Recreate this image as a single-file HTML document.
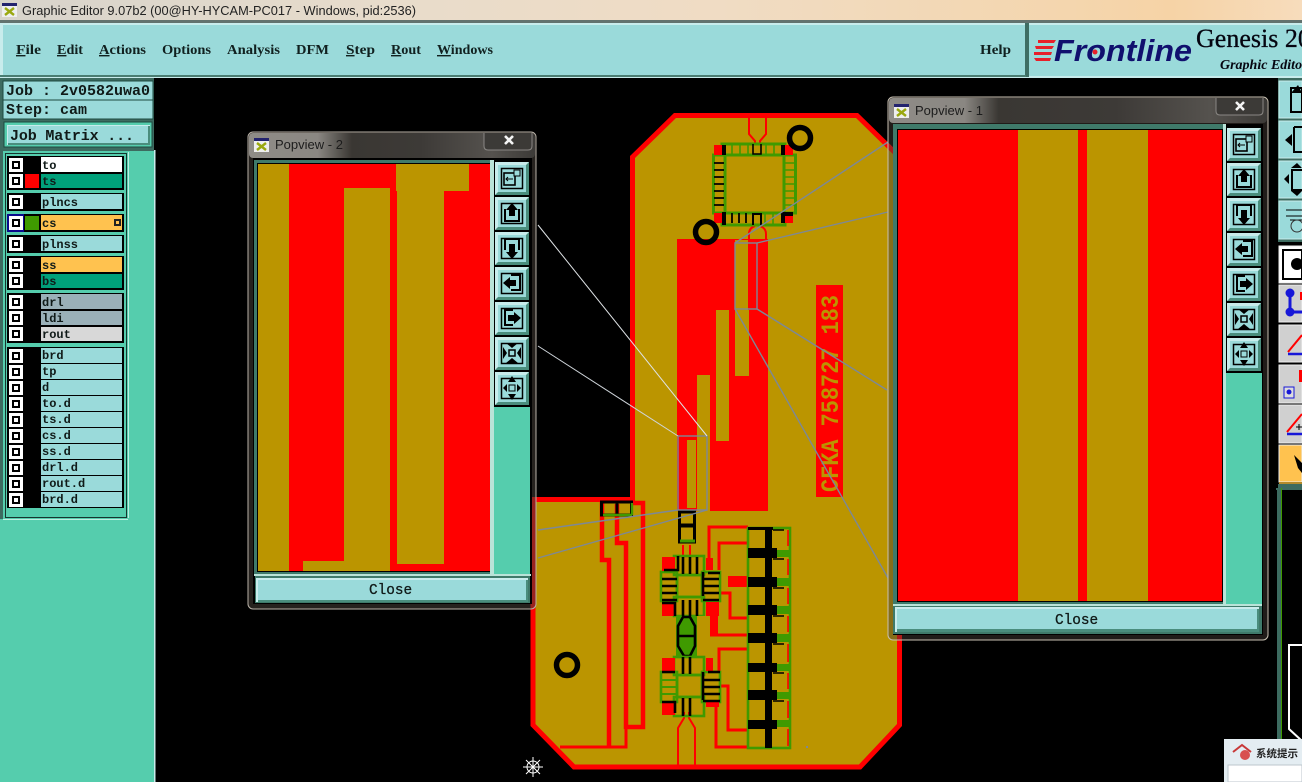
<!DOCTYPE html>
<html><head><meta charset="utf-8"><title>Graphic Editor</title>
<style>
html,body{margin:0;padding:0;background:#000;width:1302px;height:782px;overflow:hidden}
svg{display:block}
.m{font-family:"Liberation Mono",monospace;font-weight:bold;fill:#101a18}
.l{font-size:12px}
.s{font-family:"Liberation Serif",serif;font-weight:bold;font-size:14px;fill:#10201f}
.c{font-family:"Liberation Mono",monospace;font-size:14.4px;fill:#101a18;stroke:#101a18;stroke-width:.3}
.t{font-family:"Liberation Sans",sans-serif;font-size:13px;fill:#1c1c1c}
.k{stroke:#000;fill:none}
.g{stroke:#3f9a00;fill:none}
.r{stroke:#f00;fill:none}
.w{stroke:#7d8896;stroke-width:1.4;fill:none}
</style></head><body>
<svg xmlns="http://www.w3.org/2000/svg" width="1302" height="782" viewBox="0 0 1302 782">
<defs>
<linearGradient id="tb" x1="0" x2="1" y1="0" y2="0">
<stop offset="0" stop-color="#d7d3cb"/><stop offset=".3" stop-color="#e8dccb"/><stop offset=".55" stop-color="#f0dcc4"/><stop offset=".82" stop-color="#f4d6ae"/><stop offset=".9" stop-color="#f6d3a6"/><stop offset="1" stop-color="#f7dcbc"/>
</linearGradient>
<linearGradient id="glass" x1="0" x2="1" y1="0" y2="0">
<stop offset="0" stop-color="#8f8c87"/><stop offset=".24" stop-color="#8a8782"/><stop offset=".36" stop-color="#3a3733"/><stop offset=".6" stop-color="#3d3a37"/><stop offset=".85" stop-color="#55524e"/><stop offset="1" stop-color="#3c3a37"/>
</linearGradient>
<linearGradient id="glass1" x1="0" x2="1" y1="0" y2="0">
<stop offset="0" stop-color="#8f8c87"/><stop offset=".2" stop-color="#8a8782"/><stop offset=".29" stop-color="#3a3733"/><stop offset=".6" stop-color="#3d3a37"/><stop offset=".85" stop-color="#55524e"/><stop offset="1" stop-color="#3c3a37"/>
</linearGradient>
<g id="ck"><rect x="0" y="0" width="14" height="14" fill="#fff"/><rect x="3" y="3" width="8" height="8" fill="#000"/><rect x="5" y="5" width="4" height="4" fill="#fff"/></g>
<g id="btn"><rect width="34" height="33" fill="#4a8d7d"/><path d="M0 0H34L31 3H3V30L0 33Z" fill="#c8ecec"/><rect x="3" y="3" width="28" height="27" fill="#9adada"/><rect x="6.5" y="6.5" width="21" height="20" fill="none" stroke="#000" stroke-width="1.5"/></g>
<g id="ti"><rect width="15" height="14" fill="#eee"/><rect width="15" height="3" fill="#23236e"/><path d="M3 5L12 12M12 5L3 12" stroke="#9aa810" stroke-width="2.4"/></g>
<g id="tools">
<use href="#btn" y="0"/><rect x="9" y="11" width="11" height="12" fill="none" stroke="#000" stroke-width="1.6"/><rect x="19" y="8" width="6" height="6" fill="#9adada" stroke="#000"/><path d="M11 17H18M13 15L11 17L13 19" stroke="#000" fill="none"/>
<use href="#btn" y="35"/><path d="M10 47V59H24V47" fill="none" stroke="#000" stroke-width="2"/><path d="M17 41L23 48H20V54H14V48H11Z" fill="#000"/>
<use href="#btn" y="70"/><path d="M10 88V77H24V88" fill="none" stroke="#000" stroke-width="2"/><path d="M17 97L23 90H20V82H14V90H11Z" fill="#000"/>
<use href="#btn" y="105"/><path d="M16 113H25V128H16" fill="none" stroke="#000" stroke-width="2"/><path d="M8 121L15 115V118H21V124H15V127Z" fill="#000"/>
<use href="#btn" y="140"/><path d="M18 148H10V163H18" fill="none" stroke="#000" stroke-width="2"/><path d="M26 156L19 150V153H13V159H19V162Z" fill="#000"/>
<use href="#btn" y="175"/><rect x="14" y="188" width="6" height="6" fill="none" stroke="#000" stroke-width="1.5"/><path d="M17 186L11 181H23ZM17 196L11 201H23ZM12 191L8 185V197ZM22 191L26 185V197Z" fill="#000"/>
<use href="#btn" y="210"/><rect x="14" y="223" width="6" height="6" fill="none" stroke="#000"/><path d="M17 214L13 220H21ZM17 238L13 232H21ZM8 226L12 222V230ZM26 226L22 222V230Z" fill="#000"/>
</g>
</defs>

<rect width="1302" height="782" fill="#000"/>

<!-- BOARD -->
<path d="M632.5 157L675 115.5H857L899.5 157V725L860 767H574L533 725V499.5H632.5Z" fill="#bb9500" stroke="#f00" stroke-width="5"/>
<!-- red plane -->
<rect x="677" y="239" width="91" height="272" fill="#f00"/>
<rect x="735" y="240" width="14" height="136" fill="#bb9500"/>
<rect x="716" y="310" width="13" height="131" fill="#bb9500"/>
<rect x="697" y="375" width="13" height="136" fill="#bb9500"/>
<rect x="687" y="440" width="9" height="68" fill="#bb9500"/>
<path d="M748.5 240V310" stroke="#f00"/>
<rect x="816" y="285" width="27" height="212" fill="#f00"/>
<text transform="translate(838,492) rotate(-90)" font-family="Liberation Mono,monospace" font-weight="bold" font-size="25" fill="#bb9500" textLength="197" lengthAdjust="spacingAndGlyphs">CFKA 758727 183</text>

<!-- top IC -->
<path d="M749 118V134L755 141V144M766 118V134L760 141V144" class="r" stroke-width="2"/>
<path d="M749 239V234Q749 228 755 226M766 239V234Q766 228 760 226" class="r" stroke-width="2"/>
<g stroke="#3f9a00" stroke-width="3" fill="none">
<rect x="722" y="144" width="63" height="11"/><rect x="722" y="213" width="63" height="12"/>
<rect x="713.5" y="155" width="11.5" height="58"/><rect x="784" y="155" width="11.5" height="58"/>
<path d="M732 143V155M740 143V155M748 143V155M766 143V155M774 143V155M765 213V225M773 213V225M785 163H796M785 170H796M785 177H796M785 184H796M785 191H796M785 198H796M785 205H796" stroke-width="1.6"/>
</g>
<g fill="#f00"><rect x="714" y="145" width="9" height="10"/><rect x="785" y="145" width="8" height="10"/><rect x="714" y="213" width="9" height="10"/><rect x="785" y="213" width="8" height="10"/></g>
<g fill="#000"><rect x="722" y="145" width="4" height="10"/><rect x="781" y="145" width="4" height="10"/><rect x="722" y="212" width="4" height="13"/><rect x="781" y="212" width="12" height="4"/><rect x="781" y="212" width="4" height="11"/></g>
<path d="M753 144V154H761V144" class="k" stroke-width="1.6"/>
<path d="M753 225V214H761V225" class="k" stroke-width="2"/>
<path d="M714 163H724M714 170H724M714 177H724M714 184H724M714 191H724M714 198H724M714 205H724" class="k" stroke-width="1.8"/>
<path d="M732 213V223M739 213V223M746 213V223" class="k" stroke-width="1.8"/>
<g class="k" stroke-width="5.5" fill="#bb9500"><circle cx="800" cy="138" r="10.5"/><circle cx="706" cy="232" r="10.5"/><circle cx="567" cy="665" r="10.5"/></g>

<!-- bottom-left traces -->
<g class="r" stroke-width="4.5">
<path d="M602 502V560H609V746"/>
<path d="M617 504V543H626V727H643V503H632"/>
<path d="M626 727V747H560" stroke-width="3"/>
</g>
<rect x="601.5" y="502" width="30" height="13" class="k" stroke-width="3"/>
<rect x="615.5" y="502" width="3" height="13" fill="#000"/>
<path d="M603 515H632M632 503V515" class="g" stroke-width="2.4"/>

<!-- traces to array -->
<g class="r" stroke-width="3">
<path d="M709 568V527H748"/>
<path d="M719 570V543H748"/>
<path d="M720 593H730V618H748"/>
<path d="M710 635H748"/>
<path d="M719 672V649H748"/>
<path d="M720 686H728V730H748"/>
<path d="M716 705V747H748"/>
<path d="M678 765V728L684 718V712M695 765V728L689 718V712" stroke-width="2"/>
<path d="M683 545V556M690 545V556" stroke-width="2"/>
</g>
<rect x="728" y="576" width="19" height="11" fill="#f00"/>
<rect x="710" y="616" width="8" height="19" fill="#f00"/>

<!-- center column -->
<rect x="679.5" y="512" width="15" height="13" class="k" stroke-width="3"/>
<rect x="679.5" y="526" width="15" height="16" class="k" stroke-width="3"/>
<path d="M680 541H695" class="g" stroke-width="3"/>

<!-- IC 1 -->
<g class="g" stroke-width="2.6">
<rect x="674" y="556" width="30" height="19"/><rect x="661" y="572" width="16" height="29"/><rect x="702" y="572" width="18" height="29"/><rect x="674" y="597" width="30" height="19"/>
<rect x="677" y="575" width="25" height="22"/>
</g>
<g fill="#f00"><rect x="662" y="557" width="13" height="14"/><rect x="662" y="602" width="13" height="14"/><rect x="706" y="602" width="13" height="14"/><rect x="706" y="558" width="7" height="12"/></g>
<path d="M662 579H677M662 586H677M662 593H677M662 600H677M678 556V570L664 570M683 557V574M690 557V574M697 557V574M683 600V616M690 600V616M697 600V616M703 579H719M703 586H719M703 593H719M703 600H719M703 572V596M662 603H675V616M708 573H720" class="k" stroke-width="2.6"/>

<!-- hexagon connector -->
<path d="M676 617H697V657H676Z" fill="#3f9a00"/>
<path d="M697 616H710V655H697Z" fill="#bb9500"/>
<path d="M683 617L678 626V634L678 646L684 656H690L695 646V626L690 617ZM678 636H695" class="k" stroke-width="2.6" fill="#bb9500"/>

<!-- IC 2 -->
<g class="g" stroke-width="2.6">
<rect x="674" y="657" width="30" height="18"/><rect x="661" y="672" width="16" height="30"/><rect x="702" y="672" width="18" height="30"/><rect x="674" y="697" width="30" height="19"/>
<rect x="677" y="675" width="25" height="22"/>
</g>
<g fill="#f00"><rect x="662" y="658" width="13" height="13"/><rect x="662" y="702" width="13" height="13"/><rect x="706" y="658" width="7" height="13"/><rect x="706" y="702" width="13" height="5"/></g>
<path d="M662 672H675M662 702H675V713M683 657V674M690 657V674M683 698V716M690 698V716M703 680H720M703 687H720M703 694H720M703 701H720M703 672V700M708 672H720" class="k" stroke-width="2.6"/>
<path d="M662 680H676M662 687H676M662 694H676" class="g" stroke-width="2"/>

<!-- pad array -->
<rect x="748" y="528" width="42" height="220" class="g" stroke-width="2.6"/>
<g fill="#3f9a00"><rect x="777" y="550" width="13" height="7"/><rect x="777" y="578" width="13" height="8"/><rect x="777" y="606" width="13" height="8"/><rect x="777" y="634" width="13" height="8"/><rect x="748" y="637" width="20" height="6"/><rect x="777" y="664" width="13" height="7"/><rect x="777" y="692" width="13" height="7"/><rect x="777" y="720" width="13" height="7"/></g>
<g fill="#000"><rect x="765" y="527" width="7" height="221"/><rect x="748" y="527" width="25" height="3"/>
<rect x="748" y="548" width="29" height="10"/><rect x="748" y="577" width="29" height="10"/><rect x="748" y="605" width="29" height="10"/><rect x="748" y="633" width="29" height="10"/><rect x="748" y="663" width="29" height="9"/><rect x="748" y="690" width="29" height="10"/><rect x="748" y="720" width="29" height="9"/></g>
<path d="M788 530V546M788 559V575M788 588V604M788 616V632M788 644V662M788 673V689M788 701V718M788 729V746" class="r" stroke-width="1.6"/>
<path d="M773 530H784M773 559H784M773 588H784M773 616H784M773 644H784M773 673H784M773 701H784" class="k" stroke-width="1.4"/>
<rect x="806" y="746" width="2" height="2" fill="#7d8896"/>

<!-- pop lines -->
<rect x="735" y="243" width="22" height="66" class="w" stroke-width="1.6"/>
<path d="M888 142L735 243M888 212L757 243M887 390L757 309M888 578L735 309" class="w"/>
<rect x="678" y="436" width="29" height="74" class="w" stroke-width="1.6"/>
<path d="M538 225L707 436" stroke="#dfe3e6" fill="none"/><path d="M538 346L678 436" stroke="#cfd5da" fill="none"/>
<path d="M538 530L678 510M538 558L707 510" class="w"/>

<!-- crosshair -->
<g stroke="#fff" stroke-width="1" fill="none"><circle cx="533" cy="767" r="6"/><path d="M523 767H543M533 757V777M526 760L540 774M540 760L526 774"/></g>

<!-- TITLE BAR -->
<rect x="0" y="0" width="1302" height="20" fill="url(#tb)"/>
<rect x="0" y="20" width="1302" height="3" fill="#62726e"/>
<use href="#ti" x="2" y="3"/>
<text x="22" y="15" font-family="Liberation Sans,sans-serif" font-size="13" fill="#222" textLength="394" lengthAdjust="spacingAndGlyphs">Graphic Editor 9.07b2 (00@HY-HYCAM-PC017 - Windows, pid:2536)</text>

<!-- MENU -->
<rect x="0" y="23" width="1302" height="55" fill="#c8ecec"/>
<rect x="3" y="25" width="1022" height="50" fill="#9adada"/>
<rect x="1025" y="23" width="4" height="54" fill="#3e6e64"/>
<rect x="0" y="75" width="1026" height="2" fill="#4a7d72"/>
<rect x="1029" y="25" width="273" height="51" fill="#9adada"/>
<g class="s">
<text x="16" y="54" textLength="25" lengthAdjust="spacingAndGlyphs"><tspan text-decoration="underline">F</tspan>ile</text>
<text x="57" y="54" textLength="26" lengthAdjust="spacingAndGlyphs"><tspan text-decoration="underline">E</tspan>dit</text>
<text x="99" y="54" textLength="47" lengthAdjust="spacingAndGlyphs"><tspan text-decoration="underline">A</tspan>ctions</text>
<text x="162" y="54" textLength="49" lengthAdjust="spacingAndGlyphs">Options</text>
<text x="227" y="54" textLength="53" lengthAdjust="spacingAndGlyphs">Analysis</text>
<text x="296" y="54" textLength="33" lengthAdjust="spacingAndGlyphs">DFM</text>
<text x="346" y="54" textLength="29" lengthAdjust="spacingAndGlyphs"><tspan text-decoration="underline">S</tspan>tep</text>
<text x="391" y="54" textLength="30" lengthAdjust="spacingAndGlyphs"><tspan text-decoration="underline">R</tspan>out</text>
<text x="437" y="54" textLength="56" lengthAdjust="spacingAndGlyphs"><tspan text-decoration="underline">W</tspan>indows</text>
<text x="980" y="54" textLength="31" lengthAdjust="spacingAndGlyphs">Help</text>
</g>
<!-- logo -->
<path d="M1038 40H1056L1054 43H1038ZM1035 46H1054L1052 49H1036ZM1034 52H1052L1051 55H1034ZM1034 58H1051L1050 61H1036Z" fill="#e8202a"/>
<text x="1054" y="61" font-family="Liberation Sans,sans-serif" font-weight="bold" font-style="italic" font-size="31" fill="#10106e" textLength="138" lengthAdjust="spacingAndGlyphs">Frontline</text>
<circle cx="1095" cy="52" r="2.5" fill="#e8202a"/>
<text x="1196" y="47" font-family="Liberation Serif,serif" font-size="26" fill="#050510" stroke="#050510" stroke-width=".3">Genesis 20</text>
<text x="1220" y="69" font-family="Liberation Serif,serif" font-weight="bold" font-style="italic" font-size="14" fill="#050510">Graphic Editor</text>

<!-- LEFT PANEL -->
<rect x="0" y="78" width="157" height="704" fill="#000"/>
<rect x="0" y="78" width="154" height="704" fill="#3d6b60"/>
<rect x="3" y="81" width="150" height="19" fill="#9adada" stroke="#1d4a40"/>
<rect x="3" y="100" width="150" height="19" fill="#9adada" stroke="#1d4a40"/>
<text class="m" x="6" y="95" font-size="15" textLength="144">Job : 2v0582uwa0</text>
<text class="m" x="6" y="114" font-size="15" textLength="81">Step: cam</text>
<rect x="4" y="122" width="148" height="25" fill="#55cdad" stroke="#1d4a40"/>
<rect x="7" y="125" width="143" height="20" fill="#c8ecec"/><rect x="8" y="126" width="142" height="19" fill="#4a8d7d"/><rect x="8" y="126" width="140" height="17" fill="#9adada"/>
<text class="m" x="10" y="140" font-size="15" textLength="124">Job Matrix ...</text>
<rect x="3" y="151" width="151" height="631" fill="#55cdad"/>
<rect x="0" y="519" width="3" height="263" fill="#55cdad"/>
<rect x="129" y="152" width="25" height="366" fill="#55cdad"/><rect x="128" y="152" width="1" height="366" fill="#bdeee0"/>
<rect x="154" y="150" width="1.5" height="632" fill="#c8ecec"/>
<rect x="3" y="519" width="125" height="1" fill="#bdeee0"/>
<rect x="5.5" y="153.5" width="121" height="364" fill="#55cdad" stroke="#16352e"/>
<!-- layer groups -->
<g fill="#000"><rect x="7" y="156" width="117" height="34"/><rect x="7" y="193" width="117" height="18"/><rect x="7" y="214" width="117" height="18"/><rect x="7" y="235" width="117" height="18"/><rect x="7" y="256" width="117" height="34"/><rect x="7" y="293" width="117" height="50"/><rect x="7" y="347" width="117" height="161"/></g>
<rect x="41" y="157" width="81" height="15" fill="#fff"/><rect x="41" y="174" width="81" height="14" fill="#00a07a"/>
<rect x="41" y="194" width="81" height="15" fill="#9adada"/>
<rect x="41" y="215" width="81" height="15" fill="#ffc24f"/>
<rect x="41" y="236" width="81" height="15" fill="#9adada"/>
<rect x="41" y="257" width="81" height="15" fill="#ffc24f"/><rect x="41" y="274" width="81" height="14" fill="#00a07a"/>
<rect x="41" y="294" width="81" height="15" fill="#9ab0b8"/><rect x="41" y="311" width="81" height="14" fill="#9ab0b8"/><rect x="41" y="327" width="81" height="14" fill="#d8d8d8"/>
<g fill="#9adada"><rect x="41" y="348" width="81" height="15"/><rect x="41" y="364" width="81" height="15"/><rect x="41" y="380" width="81" height="15"/><rect x="41" y="396" width="81" height="15"/><rect x="41" y="412" width="81" height="15"/><rect x="41" y="428" width="81" height="15"/><rect x="41" y="444" width="81" height="15"/><rect x="41" y="460" width="81" height="15"/><rect x="41" y="476" width="81" height="15"/><rect x="41" y="492" width="81" height="15"/></g>
<rect x="25" y="174" width="14" height="14" fill="#f00"/><rect x="25" y="216" width="14" height="14" fill="#3f9a00"/>
<rect x="7" y="214" width="17" height="18" fill="#0a0a8c"/><rect x="114" y="219" width="7" height="7" fill="#222"/><rect x="116" y="221" width="3" height="3" fill="#ffc24f"/>
<use href="#ck" x="9" y="158"/><use href="#ck" x="9" y="174"/><use href="#ck" x="9" y="195"/><use href="#ck" x="9" y="216"/><use href="#ck" x="9" y="237"/><use href="#ck" x="9" y="258"/><use href="#ck" x="9" y="274"/><use href="#ck" x="9" y="295"/><use href="#ck" x="9" y="311"/><use href="#ck" x="9" y="327"/><use href="#ck" x="9" y="349"/><use href="#ck" x="9" y="365"/><use href="#ck" x="9" y="381"/><use href="#ck" x="9" y="397"/><use href="#ck" x="9" y="413"/><use href="#ck" x="9" y="429"/><use href="#ck" x="9" y="445"/><use href="#ck" x="9" y="461"/><use href="#ck" x="9" y="477"/><use href="#ck" x="9" y="493"/>
<g class="m l">
<text x="42" y="169">to</text><text x="42" y="185">ts</text><text x="42" y="206">plncs</text><text x="42" y="227">cs</text><text x="42" y="248">plnss</text><text x="42" y="269">ss</text><text x="42" y="285">bs</text><text x="42" y="306">drl</text><text x="42" y="322">ldi</text><text x="42" y="338">rout</text><text x="42" y="359">brd</text><text x="42" y="375">tp</text><text x="42" y="391">d</text><text x="42" y="407">to.d</text><text x="42" y="423">ts.d</text><text x="42" y="439">cs.d</text><text x="42" y="455">ss.d</text><text x="42" y="471">drl.d</text><text x="42" y="487">rout.d</text><text x="42" y="503">brd.d</text>
</g>

<!-- POPUP 2 -->
<rect x="248" y="132" width="288" height="477" rx="5" fill="rgba(70,62,55,.55)" stroke="#b9b2a8"/>
<rect x="249" y="133" width="286" height="25" rx="4" fill="url(#glass)"/>
<use href="#ti" x="254" y="138"/>
<text class="t" x="275" y="149">Popview - 2</text>
<path d="M484 133V146Q484 150 488 150H528Q532 150 532 146V133" fill="#3c3a37" stroke="#8a8784"/>
<path d="M505 136L513 144M513 136L505 144" stroke="#f4f4f4" stroke-width="2.6"/>
<rect x="253" y="158" width="279" height="446" fill="#000"/>
<rect x="254" y="160" width="240" height="414" fill="#3f7a6a"/>
<rect x="257" y="163" width="235" height="409" fill="#000"/>
<rect x="258" y="164" width="232" height="407" fill="#bb9500"/>
<rect x="289" y="164" width="14" height="407" fill="#f00"/>
<rect x="303" y="164" width="41" height="397" fill="#f00"/>
<rect x="344" y="164" width="52" height="24" fill="#f00"/>
<rect x="390" y="188" width="7" height="383" fill="#f00"/>
<rect x="444" y="164" width="46" height="407" fill="#f00"/>
<rect x="397" y="564" width="47" height="7" fill="#f00"/>
<rect x="396" y="164" width="73" height="27" fill="#bb9500"/>
<rect x="469" y="164" width="21" height="27" fill="#f00"/>
<rect x="490" y="160" width="4" height="414" fill="#b9e3d8"/>
<rect x="494" y="160" width="36" height="247" fill="#000"/>
<rect x="494" y="407" width="36" height="167" fill="#55cdad"/>
<use href="#tools" x="495" y="162"/>
<rect x="254" y="574" width="277" height="2" fill="#b9e3d8"/>
<rect x="255" y="576" width="275" height="27" fill="#3f7a6a"/>
<rect x="256" y="578" width="272" height="24" fill="#c8ecec"/><rect x="258" y="580" width="270" height="22" fill="#4a8d7d"/><rect x="258" y="580" width="268" height="20" fill="#9adada"/>
<text class="c" x="369" y="594">Close</text>

<!-- POPUP 1 -->
<rect x="888" y="97" width="380" height="543" rx="5" fill="rgba(70,62,55,.45)" stroke="#c8c0b2"/>
<rect x="889" y="98" width="378" height="25" rx="4" fill="url(#glass1)"/>
<use href="#ti" x="894" y="104"/>
<text class="t" x="915" y="115">Popview - 1</text>
<path d="M1216 98V111Q1216 115 1220 115H1259Q1263 115 1263 111V98" fill="#3c3a37" stroke="#8a8784"/>
<path d="M1236 102L1244 110M1244 102L1236 110" stroke="#f4f4f4" stroke-width="2.6"/>
<rect x="893" y="124" width="370" height="511" fill="#000"/>
<rect x="893" y="124" width="333" height="480" fill="#3f7a6a"/>
<rect x="897" y="129" width="326" height="473" fill="#000"/>
<rect x="898" y="130" width="324" height="471" fill="#f00"/>
<rect x="1018" y="130" width="60" height="471" fill="#bb9500"/>
<rect x="1087" y="130" width="61" height="471" fill="#bb9500"/>
<rect x="1223" y="124" width="3" height="480" fill="#b9e3d8"/>
<rect x="1226" y="126" width="36" height="247" fill="#000"/>
<rect x="1226" y="373" width="36" height="231" fill="#55cdad"/>
<use href="#tools" x="1227" y="128"/>
<rect x="893" y="604" width="369" height="2" fill="#b9e3d8"/>
<rect x="893" y="606" width="369" height="28" fill="#3f7a6a"/>
<rect x="895" y="607" width="364" height="25" fill="#c8ecec"/><rect x="897" y="609" width="362" height="23" fill="#4a8d7d"/><rect x="897" y="609" width="360" height="20" fill="#9adada"/>
<text class="c" x="1055" y="624">Close</text>

<!-- RIGHT TOOLBAR -->
<rect x="1278" y="78" width="24" height="164" fill="#3d6b60"/>
<g>
<rect x="1279" y="81" width="23" height="37" fill="#9adada" stroke="#c8ecec"/>
<rect x="1279" y="121" width="23" height="37" fill="#9adada" stroke="#c8ecec"/>
<rect x="1279" y="161" width="23" height="37" fill="#9adada" stroke="#c8ecec"/>
<rect x="1279" y="201" width="23" height="38" fill="#9adada" stroke="#c8ecec"/>
</g>
<path d="M1291 88H1302V112H1291Z" fill="none" stroke="#000" stroke-width="2"/><path d="M1298 85L1291 93H1302Z" fill="#000"/>
<path d="M1294 127H1302M1294 127V152H1302" fill="none" stroke="#000" stroke-width="2"/><path d="M1285 140L1292 134V146Z" fill="#000"/>
<rect x="1292" y="170" width="12" height="20" fill="none" stroke="#000" stroke-width="2"/><path d="M1284 179L1289 174V184ZM1297 163L1291 168H1302ZM1297 196L1291 191H1302Z" fill="#000"/>
<path d="M1286 210H1302M1286 216H1302M1290 220H1302" stroke="#000" fill="none"/><circle cx="1297" cy="226" r="6" fill="none" stroke="#333"/>
<rect x="1278" y="242" width="24" height="4" fill="#000"/>
<g fill="#d0d0d0" stroke="#eee">
<rect x="1279" y="246" width="23" height="37" fill="#fff"/>
<rect x="1279" y="285" width="23" height="37"/>
<rect x="1279" y="325" width="23" height="37"/>
<rect x="1279" y="365" width="23" height="38"/>
<rect x="1279" y="405" width="23" height="38"/>
<rect x="1279" y="445" width="23" height="37" fill="#ffc24f"/>
</g>
<rect x="1283" y="250" width="19" height="29" fill="#fff" stroke="#000" stroke-width="2"/><circle cx="1297" cy="264" r="6" fill="#000"/>
<path d="M1290 293V312H1302" stroke="#1717d8" stroke-width="3" fill="none"/><circle cx="1290" cy="293" r="4.5" fill="#1717d8"/><circle cx="1290" cy="312" r="4.5" fill="#1717d8"/><rect x="1300" y="292" width="2" height="8" fill="#f00"/>
<path d="M1288 352L1302 335" stroke="#f00" stroke-width="2" fill="none"/><path d="M1288 354H1302" stroke="#1717d8" stroke-width="2.5" fill="none"/>
<rect x="1284" y="387" width="10" height="11" fill="#ddd" stroke="#1717d8"/><circle cx="1289" cy="392" r="2.5" fill="#1717d8"/><rect x="1299" y="370" width="3" height="12" fill="#f00"/>
<path d="M1287 432L1302 414" stroke="#f00" stroke-width="2" fill="none"/><path d="M1287 434H1302" stroke="#1717d8" stroke-width="2.5" fill="none"/><path d="M1299 424V430M1296 427H1302" stroke="#000"/>
<path d="M1294 455L1302 463V473L1298 468Z" fill="#000"/>
<rect x="1278" y="484" width="24" height="6" fill="#3d6b60"/><rect x="1279" y="482" width="23" height="2" fill="#b58b2c"/>
<rect x="1276" y="488" width="26" height="2" fill="#3d6b60"/>
<rect x="1277" y="488" width="4" height="252" fill="#3d6b60"/>
<rect x="1281" y="488" width="1" height="252" fill="#3f9a00"/>
<path d="M1302 645H1289V729L1301 740" fill="none" stroke="#fff" stroke-width="2"/>

<!-- DIALOG -->
<rect x="1224" y="739" width="78" height="43" fill="#e4edf2"/>
<rect x="1228" y="765" width="74" height="17" fill="#fff" stroke="#bcc6cc"/>
<path d="M1233 752L1242 745L1251 752" fill="none" stroke="#c83838" stroke-width="2"/><circle cx="1245" cy="755" r="5" fill="#d85050"/>
<text x="1256" y="757" font-family="'Liberation Sans','Noto Sans CJK SC',sans-serif" font-size="10.5" font-weight="bold" fill="#222">系统提示</text>
</svg>
</body></html>
